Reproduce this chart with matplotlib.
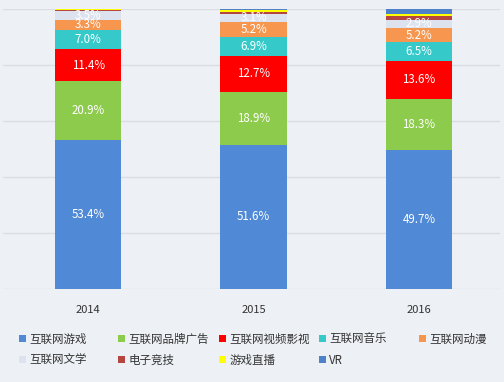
import matplotlib
matplotlib.use("Agg")
import matplotlib.pyplot as plt
from matplotlib.patches import Patch

plt.rcParams['font.family'] = ['Noto Sans CJK SC', 'DejaVu Sans']

years = ['2014', '2015', '2016']
series_names = ['互联网游戏', '互联网品牌广告', '互联网视频影视', '互联网音乐', '互联网动漫',
                '互联网文学', '电子竞技', '游戏直播', 'VR']
games = [53.4, 51.6, 49.7]
brand_ads = [20.9, 18.9, 18.3]
video = [11.4, 12.7, 13.6]
music = [7.0, 6.9, 6.5]
anime = [3.3, 5.2, 5.2]
literature = [3.5, 3.1, 2.9]
esports = [0.1, 0.7, 1.4]
live = [0.4, 0.7, 0.6]
vr = [0.0, 0.2, 1.8]
series_values = [games, brand_ads, video, music, anime, literature, esports, live, vr]
colors = ['#5089D5', '#8DCB4C', '#FF0000', '#35C9C9', '#F6964F',
          '#DDE3EE', '#B5453F', '#FFFF00', '#4F81C9']

W, H = 504, 382
fig = plt.figure(figsize=(W / 100, H / 100), dpi=100)
fig.patch.set_facecolor('#EDF0F4')
ax = fig.add_axes([0.006, 0.243, 0.986, 0.733])
ax.set_facecolor('#EDF0F4')

x = list(range(len(years)))
bottom = [0.0] * len(years)
for name, vals, c in zip(series_names, series_values, colors):
    ax.bar(x, vals, width=0.4, bottom=bottom, color=c, zorder=3)
    if name not in ('电子竞技', '游戏直播', 'VR'):
        for xi, b, v in zip(x, bottom, vals):
            ax.text(xi, b + v / 2, f'{v:.1f}%', ha='center', va='center',
                    color='white', fontsize=8.3, zorder=4)
    bottom = [b + v for b, v in zip(bottom, vals)]

ax.set_ylim(0, 100)
ax.set_xlim(-0.515, 2.49)
ax.set_yticks([0, 20, 40, 60, 80, 100])
ax.yaxis.grid(True, color='#DADDE2', linewidth=1, zorder=0)
ax.tick_params(axis='y', left=False, labelleft=False)
ax.tick_params(axis='x', bottom=False, labelsize=8, colors='#333333', pad=8)
ax.set_xticks(x)
ax.set_xticklabels(years)
for s in ax.spines.values():
    s.set_visible(False)

# legend: fixed-width columns laid out row by row
col_x = [19, 118, 219, 319, 419]
row_y = [339, 360]
for i, (name, c) in enumerate(zip(series_names, colors)):
    r, k = divmod(i, 5)
    fig.legend([Patch(facecolor=c, edgecolor='none')], [name],
               loc='center left', bbox_to_anchor=(col_x[k] / W, 1 - row_y[r] / H),
               frameon=False, fontsize=8.3, handlelength=0.6, handleheight=0.6,
               handletextpad=0.3, borderpad=0, borderaxespad=0,
               labelcolor='#333333')

fig.savefig('out.png', dpi=100, facecolor=fig.get_facecolor())
